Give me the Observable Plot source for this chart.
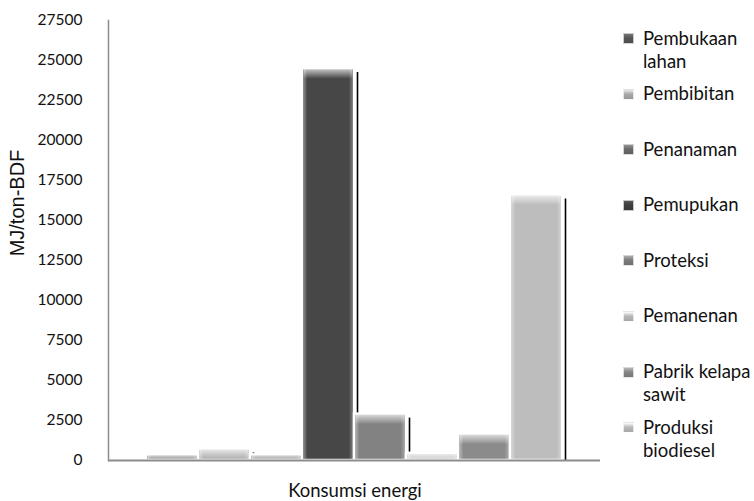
<!DOCTYPE html>
<html>
<head>
<meta charset="utf-8">
<script src="https://cdn.jsdelivr.net/npm/d3@7"></script>
<script src="https://cdn.jsdelivr.net/npm/@observablehq/plot@0.6"></script>
<style>
  html, body { margin: 0; padding: 0; background: #fff; }
  #chart { position: relative; width: 754px; height: 501px; font-family: Lato, "Open Sans", sans-serif; color: #111; overflow: hidden; }
  #chart svg { position: absolute; left: 0; top: 0; }
  .ylabel { position: absolute; left: 17px; top: 203px; transform: translate(-50%, -50%) rotate(-90deg); font-family: "Liberation Sans", Arial, sans-serif; font-size: 20px; white-space: nowrap; }
  .xlabel { position: absolute; left: 355px; top: 490px; transform: translate(-50%, -50%); font-size: 18.5px; white-space: nowrap; }
  .legend { position: absolute; left: 623px; top: 26.5px; }
  .legend .item { position: relative; height: 55.6px; }
  .legend .sw { position: absolute; left: 0; top: 6.5px; width: 11px; height: 11px; box-sizing: border-box; border: 1px solid rgba(255,255,255,0.7); }
  .legend .tx { position: absolute; left: 20px; top: 0; width: 114px; font-size: 18.5px; line-height: 23px; }
</style>
</head>
<body>
<div id="chart"></div>
<script>
// Energy consumption per stage of palm-oil biodiesel production (MJ/ton-BDF)
const categories = [
  "Pembukaan lahan", "Pembibitan", "Penanaman", "Pemupukan",
  "Proteksi", "Pemanenan", "Pabrik kelapa sawit", "Produksi biodiesel"
];
const values = [350, 720, 350, 24500, 2900, 450, 1650, 16600];
const colors = ["#555555", "#a9a9a9", "#6a6a6a", "#3d3d3d", "#7b7b7b", "#b8b8b8", "#858585", "#bababa"];
const yTicks = [0, 2500, 5000, 7500, 10000, 12500, 15000, 17500, 20000, 22500, 25000, 27500];
const groupLabel = "Konsumsi energi";
const yLabel = "MJ/ton-BDF";

const W = 754, H = 472;
const M = {top: 20, right: 154, bottom: 12, left: 108};
const xOpts = {type: "band", domain: categories, paddingInner: 0, paddingOuter: 0.73};
const bw = Plot.scale({x: {...xOpts, range: [M.left, W - M.right]}}).bandwidth;

const rows = categories.map((c, i) => ({c, v: values[i], color: colors[i]}));

// one group of marks per bar so that each bar covers the shadow of the one before it
const barMarks = rows.flatMap(r => [
  Plot.barY([r], {x: "c", y: "v", fill: "color", stroke: "white", strokeWidth: 2.5}),
  Plot.barY([r], {x: "c", y: "v", fill: "url(#sideShade)", insetLeft: 1.5, insetRight: 1.5}),
  Plot.barY([r], {x: "c", y1: "v", y2: "v", fill: "url(#topShade)", insetLeft: 1.5, insetRight: 1.5, insetTop: 1, insetBottom: -10, clip: true}),
  Plot.ruleX([r], {x: "c", y1: "v", y2: 0, dx: bw / 2 + 3, insetTop: 4, stroke: "#000", strokeWidth: 1.6})
]);

const plot = Plot.plot({
  width: W, height: H,
  marginTop: M.top, marginRight: M.right, marginBottom: M.bottom, marginLeft: M.left,
  style: {fontFamily: "Lato, 'Open Sans', sans-serif", fontSize: "15px", color: "#111", background: "transparent"},
  x: {...xOpts, axis: null},
  y: {domain: [0, 27500], axis: null},
  marks: [
    Plot.frame({anchor: "left", stroke: "#8c8c8c", strokeWidth: 1.5}),
    Plot.axisY({ticks: yTicks, tickSize: 0, tickPadding: 26, tickFormat: d => String(d), label: null, fontSize: 15.5}),
    ...barMarks,
    Plot.ruleY([0], {stroke: "#8c8c8c", strokeWidth: 2})
  ]
});

// bevel gradients used by the bar overlays
const defs = d3.select(plot).insert("defs", ":first-child");
const sideGrad = defs.append("linearGradient").attr("id", "sideShade").attr("x1", 0).attr("x2", 1).attr("y1", 0).attr("y2", 0);
[[0, 0.4], [0.08, 0.05], [0.92, 0.05], [1, 0.3]].forEach(([o, a]) =>
  sideGrad.append("stop").attr("offset", o).attr("stop-color", "#fff").attr("stop-opacity", a));
const topGrad = defs.append("linearGradient").attr("id", "topShade").attr("x1", 0).attr("x2", 0).attr("y1", 0).attr("y2", 1);
[[0, 0.7], [0.45, 0.4], [1, 0.05]].forEach(([o, a]) =>
  topGrad.append("stop").attr("offset", o).attr("stop-color", "#fff").attr("stop-opacity", a));

const chart = document.getElementById("chart");
chart.appendChild(plot);

const yl = document.createElement("div");
yl.className = "ylabel"; yl.textContent = yLabel; chart.appendChild(yl);
const xl = document.createElement("div");
xl.className = "xlabel"; xl.textContent = groupLabel; chart.appendChild(xl);

const legend = document.createElement("div");
legend.className = "legend";
rows.forEach(r => {
  const item = document.createElement("div");
  item.className = "item";
  const sw = document.createElement("div");
  sw.className = "sw";
  sw.style.background = `linear-gradient(to bottom, ${d3.color(r.color).brighter(0.9)}, ${r.color} 45%, ${d3.color(r.color).darker(0.3)})`;
  const tx = document.createElement("div");
  tx.className = "tx"; tx.textContent = r.c;
  item.appendChild(sw); item.appendChild(tx);
  legend.appendChild(item);
});
chart.appendChild(legend);
</script>
</body>
</html>
